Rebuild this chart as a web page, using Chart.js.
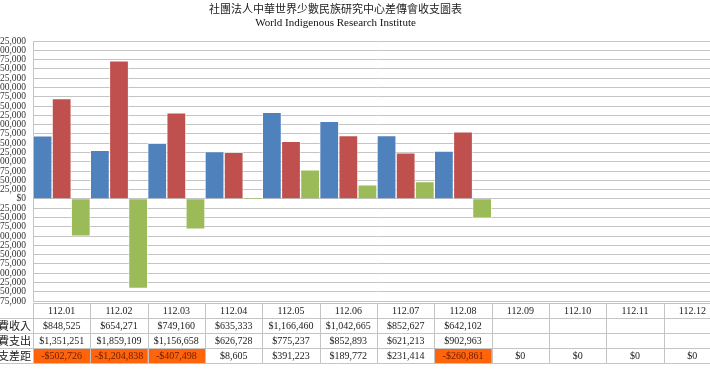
<!DOCTYPE html>
<html>
<head>
<meta charset="utf-8">
<script src="https://cdn.jsdelivr.net/npm/chart.js@4/dist/chart.umd.min.js"></script>
<style>
  html, body { margin:0; padding:0; width:710px; height:375px; overflow:hidden; background:#fff; }
  #wrap { position:absolute; left:-50px; top:0; width:775px; height:375px; }
</style>
</head>
<body>
<div id="wrap"><canvas id="c" width="775" height="375"></canvas></div>
<script>
const titleText = '社團法人中華世界少數民族研究中心差傳會收支圖表';
const subtitleText = 'World Indigenous Research Institute';
const categories = ['112.01','112.02','112.03','112.04','112.05','112.06','112.07','112.08','112.09','112.10','112.11','112.12'];
const seriesNames = ['經費收入','經費支出','收支差距'];
const income  = [848525, 654271, 749160, 635333, 1166460, 1042665, 852627, 642102, null, null, null, null];
const expense = [1351251, 1859109, 1156658, 626728, 775237, 852893, 621213, 902963, null, null, null, null];
const balance = [-502726, -1204838, -407498, 8605, 391223, 189772, 231414, -260861, 0, 0, 0, 0];
const yMin = -1375000, yMax = 2125000, yStep = 125000;

const colors = ['#4F81BD', '#C0504D', '#9BBB59'];
const gridColor = '#c4c4c4';
const serif = '"Liberation Serif", "Times New Roman", serif';
const cjk = '"Noto Sans CJK TC", "Noto Sans CJK SC", sans-serif';

function money(v) {
  if (v === null || v === undefined) return '';
  return (v < 0 ? '-' : '') + '$' + Math.abs(v).toLocaleString('en-US');
}

const tablePlugin = {
  id: 'dataTable',
  afterDraw(chart) {
    const ctx = chart.ctx;
    const area = chart.chartArea;
    const x = chart.scales.x;
    const n = categories.length;
    const cw = (area.right - area.left) / n;
    const top = area.bottom + 2;
    const rh = 15;
    const rows = [income, expense, balance];
    ctx.save();
    balance.forEach((v, i) => {
      if (v < 0) {
        const cx = x.getPixelForValue(i);
        ctx.fillStyle = '#FF640A';
        ctx.fillRect(cx - cw / 2, top + 3 * rh, cw, rh + 1);
      }
    });
    ctx.strokeStyle = gridColor;
    ctx.lineWidth = 1;
    ctx.beginPath();
    ctx.moveTo(area.left, top + 0.5); ctx.lineTo(chart.width, top + 0.5);
    for (let r = 1; r <= 4; r++) {
      const yy = Math.round(top + r * rh) + 0.5;
      ctx.moveTo(0, yy); ctx.lineTo(chart.width, yy);
    }
    for (let i = 0; i <= n; i++) {
      const xx = Math.round(area.left + i * cw) + 0.5;
      ctx.moveTo(xx, top); ctx.lineTo(xx, top + 4 * rh);
    }
    ctx.stroke();
    ctx.textAlign = 'center';
    ctx.textBaseline = 'middle';
    ctx.font = '10px ' + serif;
    categories.forEach((c, i) => {
      const cx = x.getPixelForValue(i);
      ctx.fillStyle = '#222';
      ctx.fillText(c, cx, top + rh / 2 + 0.5);
      rows.forEach((row, r) => {
        const v = row[i];
        ctx.fillStyle = (r === 2 && v < 0) ? '#6b1d00' : '#222';
        ctx.fillText(money(v), cx, top + (r + 1) * rh + rh / 2 + 0.5);
      });
    });
    ctx.textAlign = 'right';
    ctx.font = '11px ' + cjk;
    ctx.fillStyle = '#222';
    seriesNames.forEach((s, r) => {
      ctx.fillText(s, area.left - 2, top + (r + 1) * rh + rh / 2 + 0.5);
    });
    ctx.restore();
  }
};

new Chart(document.getElementById('c'), {
  type: 'bar',
  data: {
    labels: categories,
    datasets: [
      { label: seriesNames[0], data: income, backgroundColor: colors[0] },
      { label: seriesNames[1], data: expense, backgroundColor: colors[1] },
      { label: seriesNames[2], data: balance, backgroundColor: colors[2] }
    ].map(d => Object.assign(d, {
      borderColor: 'rgba(255,255,255,0.5)', borderWidth: 1,
      barPercentage: 1, categoryPercentage: 1
    }))
  },
  options: {
    responsive: false,
    animation: false,
    devicePixelRatio: 1,
    layout: { padding: { left: 0, right: 4, top: 0, bottom: 0 } },
    plugins: {
      legend: { display: false },
      tooltip: { enabled: false },
      title: {
        display: true, text: titleText, color: '#222',
        font: { family: cjk, size: 11, weight: 'normal', lineHeight: 1.2 },
        padding: { top: 2, bottom: 1 }
      },
      subtitle: {
        display: true, text: subtitleText, color: '#111',
        font: { family: serif, size: 11, weight: 'normal', lineHeight: 1.2 },
        padding: { top: 0.2, bottom: 11.4 }
      }
    },
    scales: {
      x: {
        grid: { display: false, drawTicks: false },
        border: { display: false },
        ticks: { display: false },
        afterFit(s) { s.height = 74; }
      },
      y: {
        min: yMin, max: yMax,
        grid: { color: gridColor, drawTicks: false },
        border: { color: gridColor },
        ticks: {
          stepSize: yStep, padding: 7, color: '#333', autoSkip: false,
          font: { family: serif, size: 9.5 },
          callback: v => money(v)
        },
        afterFit(s) { s.width = 83; }
      }
    }
  },
  plugins: [tablePlugin]
});
</script>
</body>
</html>
